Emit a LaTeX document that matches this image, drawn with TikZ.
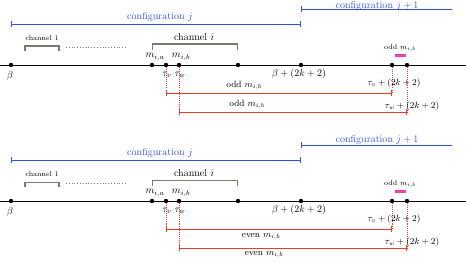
\documentclass[tikz,border=0pt]{standalone}
\usepackage{amsmath}
\usepackage{tikz}
\usepackage{xcolor}
\usetikzlibrary{arrows.meta}
\definecolor{CfgBlue}{HTML}{2F50E6}
\definecolor{SpanRed}{HTML}{F03C1E}
\definecolor{ChanGray}{HTML}{7A7A6E}
\definecolor{MarkPink}{HTML}{F2409C}

\begin{document}
\begin{tikzpicture}[x=0.035cm, y=-0.035cm,
    dot/.style={circle, fill=black, inner sep=0pt, minimum size=4.4pt},
    axis/.style={line width=0.9pt},
    cfg/.style={CfgBlue, line width=0.9pt},
    span/.style={SpanRed, line width=0.9pt},
    drop/.style={SpanRed, densely dotted, line width=1pt},
    chan/.style={ChanGray, line width=1pt},
    lbl/.style={inner sep=1pt}]
    \useasboundingbox (0,0) rectangle (466,261);
    % ---------- upper panel (odd) ----------
    % Configurations
    \coordinate (cja) at (11,24); \coordinate (cjb) at (301,24);
    \coordinate (cka) at (301,9); \coordinate (ckb) at (452,9);
    \draw[cfg, {Bar[width=5pt]}-{Bar[width=5pt]}] (cja) -- (cjb);
    \draw[cfg, {Bar[width=5pt]}-] (cka) -- (ckb);
    \node[lbl, CfgBlue] (cjl) at (160,17) {configuration $j$};
    \node[lbl, CfgBlue] (ckl) at (377,5.5) {configuration $j+1$};
    % Channels
    \draw[chan] (25,51) -- (25,46) -- (59,46) -- (59,51);
    \node[lbl, font=\scriptsize] (c1l) at (42,38) {channel 1};
    \draw[ChanGray, dotted, line width=0.8pt] (66,47) -- (126,47);
    \draw[chan] (152,50) -- (152,44) -- (237,44) -- (237,50);
    \node[lbl] (cil) at (194,37) {channel $i$};
    % Time axis
    \coordinate (axa) at (0,65); \coordinate (axb) at (466,65);
    \draw[axis] (axa) -- (axb);
    \node[dot] (b) at (11,65) {};
    \node[dot] (ma) at (152,65) {};
    \node[dot] (tv) at (166,65) {};
    \node[dot] (mb) at (179,65) {};
    \node[dot] (ce) at (238,65) {};
    \node[dot] (bk) at (301,65) {};
    \node[dot] (tvk) at (392,65) {};
    \node[dot] (twk) at (407,65) {};
    \node[lbl] (bl) at (10,76) {$\beta$};
    \node[lbl] (mal) at (155,57) {$m_{i,a}$};
    \node[lbl] (mbl) at (181,57) {$m_{i,b}$};
    \node[lbl] (tvl) at (167,75) {$\tau_v$};
    \node[lbl] (twl) at (180,75) {$\tau_w$};
    \node[lbl] (bkl) at (299,74) {$\beta+(2k+2)$};
    \node[lbl, font=\scriptsize] (ol) at (400,48) {odd $m_{i,b}$};
    \fill[MarkPink] (395,53.5) rectangle (406,57);
    % Shifted spans
    \coordinate (sva) at (166,93); \coordinate (svb) at (392,93);
    \coordinate (swa) at (179,112); \coordinate (swb) at (407,112);
    \draw[drop] (tv) -- (sva); \draw[drop] (tvk) -- (svb);
    \draw[drop] (mb) -- (swa); \draw[drop] (twk) -- (swb);
    \draw[span, {Bar[width=5pt]}-{Bar[width=5pt]}] (sva) -- (svb);
    \draw[span, {Bar[width=5pt]}-{Bar[width=5pt]}] (swa) -- (swb);
    \node[lbl, font=\small] (svl) at (244,85) {odd $m_{i,b}$};
    \node[lbl, font=\small] (swl) at (247,104) {odd $m_{i,b}$};
    \node[lbl, font=\small] (svkl) at (394,83) {$\tau_v+(2k+2)$};
    \node[lbl, font=\small] (swkl) at (412,106) {$\tau_w+(2k+2)$};
    % ---------- lower panel (even) ----------
    % Configurations
    \coordinate (cja2) at (11,160); \coordinate (cjb2) at (301,160);
    \coordinate (cka2) at (301,145); \coordinate (ckb2) at (452,145);
    \draw[cfg, {Bar[width=5pt]}-{Bar[width=5pt]}] (cja2) -- (cjb2);
    \draw[cfg, {Bar[width=5pt]}-] (cka2) -- (ckb2);
    \node[lbl, CfgBlue] (cjl2) at (160,153) {configuration $j$};
    \node[lbl, CfgBlue] (ckl2) at (377,140) {configuration $j+1$};
    % Channels
    \draw[chan] (25,187) -- (25,182) -- (59,182) -- (59,187);
    \node[lbl, font=\scriptsize] (c1l2) at (42,174) {channel 1};
    \draw[ChanGray, dotted, line width=0.8pt] (66,183) -- (126,183);
    \draw[chan] (152,186) -- (152,180) -- (237,180) -- (237,186);
    \node[lbl] (cil2) at (194,173) {channel $i$};
    % Time axis
    \coordinate (axa2) at (0,201); \coordinate (axb2) at (466,201);
    \draw[axis] (axa2) -- (axb2);
    \node[dot] (b2) at (11,201) {};
    \node[dot] (ma2) at (152,201) {};
    \node[dot] (tv2) at (166,201) {};
    \node[dot] (mb2) at (179,201) {};
    \node[dot] (ce2) at (238,201) {};
    \node[dot] (bk2) at (301,201) {};
    \node[dot] (tvk2) at (392,201) {};
    \node[dot] (twk2) at (407,201) {};
    \node[lbl] (bl2) at (10,212) {$\beta$};
    \node[lbl] (mal2) at (155,193) {$m_{i,a}$};
    \node[lbl] (mbl2) at (181,193) {$m_{i,b}$};
    \node[lbl] (tvl2) at (167,211) {$\tau_v$};
    \node[lbl] (twl2) at (180,211) {$\tau_w$};
    \node[lbl] (bkl2) at (299,210) {$\beta+(2k+2)$};
    \node[lbl, font=\scriptsize] (ol2) at (400,184) {odd $m_{i,b}$};
    \fill[MarkPink] (395,189.5) rectangle (406,193);
    % Shifted spans
    \coordinate (sva2) at (166,229); \coordinate (svb2) at (392,229);
    \coordinate (swa2) at (179,248); \coordinate (swb2) at (407,248);
    \draw[drop] (tv2) -- (sva2); \draw[drop] (tvk2) -- (svb2);
    \draw[drop] (mb2) -- (swa2); \draw[drop] (twk2) -- (swb2);
    \draw[span, {Bar[width=5pt]}-{Bar[width=5pt]}] (sva2) -- (svb2);
    \draw[span, {Bar[width=5pt]}-{Bar[width=5pt]}] (swa2) -- (swb2);
    \node[lbl, font=\small] (svl2) at (261,237) {even $m_{i,b}$};
    \node[lbl, font=\small] (swl2) at (264,255) {even $m_{i,b}$};
    \node[lbl, font=\small] (svkl2) at (394,219) {$\tau_v+(2k+2)$};
    \node[lbl, font=\small] (swkl2) at (412,242) {$\tau_w+(2k+2)$};
\end{tikzpicture}
\end{document}
